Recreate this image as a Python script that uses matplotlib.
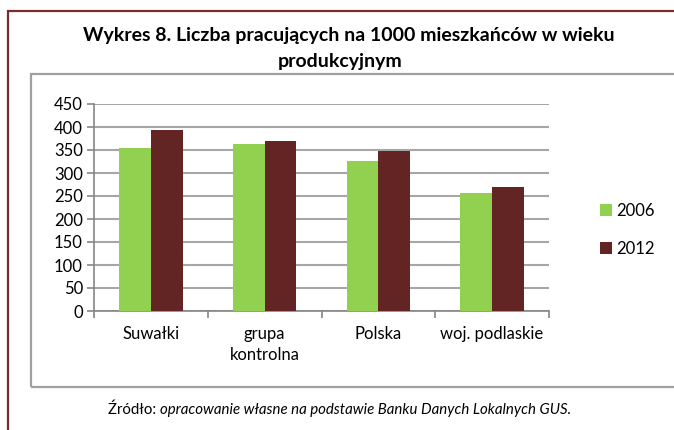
import matplotlib
matplotlib.use("Agg")
import matplotlib.pyplot as plt
from matplotlib.patches import Rectangle
import numpy as np

# dane
kategorie = ["Suwałki", "grupa\nkontrolna", "Polska", "woj. podlaskie"]
lata = ["2006", "2012"]
w2006 = [355, 363, 326, 257]
w2012 = [393, 369, 347, 270]
kolory = ["#92D050", "#632523"]
y_ticks = [0, 50, 100, 150, 200, 250, 300, 350, 400, 450]

W, H = 674, 430
plt.rcParams['font.family'] = ['Lato', 'DejaVu Sans']


def fx(px):
    return px / W


def fy(py):
    return 1 - py / H


fig = plt.figure(figsize=(W / 100, H / 100), dpi=100)

# ramki
fig.patches.append(Rectangle((fx(8), fy(440)), fx(700), fy(11) - fy(440),
                             transform=fig.transFigure, fill=False,
                             edgecolor="#7B2C2C", linewidth=1.6))
fig.patches.append(Rectangle((fx(31), fy(387)), fx(700), fy(74) - fy(387),
                             transform=fig.transFigure, fill=False,
                             edgecolor="#A0A0A0", linewidth=1.6))

ax = fig.add_axes([fx(94), fy(311), fx(549) - fx(94), fy(104) - fy(311)])

x = np.arange(len(kategorie))
bw = 0.28
ax.bar(x - bw / 2, w2006, bw, color=kolory[0], label=lata[0], zorder=3)
ax.bar(x + bw / 2, w2012, bw, color=kolory[1], label=lata[1], zorder=3)

ax.set_xlim(-0.5, 3.5)
ax.set_ylim(0, 450)
ax.set_yticks(y_ticks)
ax.yaxis.grid(True, color="#A6A6A6", linewidth=1.5, zorder=0)
ax.set_axisbelow(True)

ax.set_xticks(np.arange(-0.5, 4, 1))
ax.set_xticklabels([])
ax.set_xticks(x, minor=True)
ax.set_xticklabels(kategorie, minor=True, fontsize=12, linespacing=1.35)
ax.tick_params(axis='x', which='minor', length=0, pad=11)
ax.tick_params(axis='x', which='major', length=5, color="#868686", width=1.2)
ax.tick_params(axis='y', length=5, color="#868686", width=1.2, labelsize=12, pad=3)

for s in ["top", "right"]:
    ax.spines[s].set_visible(False)
for s in ["left", "bottom"]:
    ax.spines[s].set_color("#868686")
    ax.spines[s].set_linewidth(1.2)

ax.legend(loc="center left", bbox_to_anchor=(fx(585), fy(230)),
          bbox_transform=fig.transFigure, frameon=False, fontsize=12,
          handlelength=0.7, handleheight=0.7, handletextpad=0.3,
          labelspacing=1.3)

# tytul
fig.text(fx(349), fy(36), "Wykres 8. Liczba pracujących na 1000 mieszkańców w wieku",
         ha="center", va="center", fontsize=14, fontweight="bold")
fig.text(fx(340), fy(62), "produkcyjnym",
         ha="center", va="center", fontsize=14, fontweight="bold")

# zrodlo
t1 = fig.text(fx(108), fy(410), "Źródło: ", ha="left", va="center", fontsize=10.8)
ax.annotate("opracowanie własne na podstawie Banku Danych Lokalnych GUS.",
            xy=(1, 0.5), xycoords=t1, ha="left", va="center",
            fontsize=10.8, style="italic", annotation_clip=False)

fig.savefig("out.png", dpi=100)
